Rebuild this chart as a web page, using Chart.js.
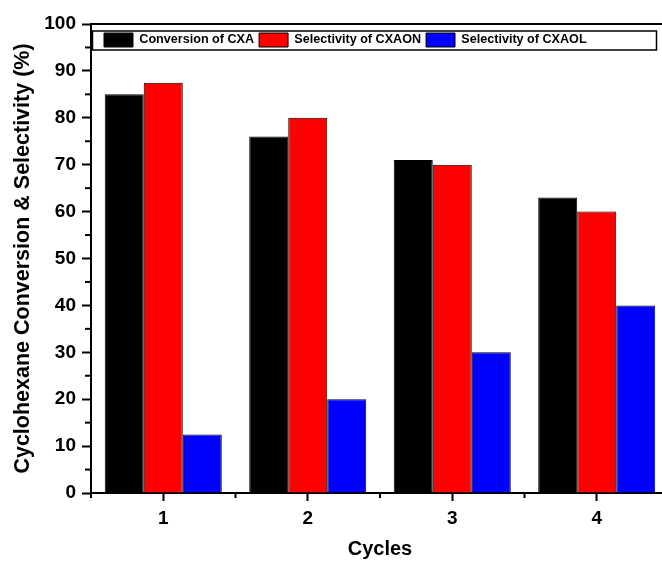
<!DOCTYPE html>
<html lang="en">
<head>
  <meta charset="UTF-8">
  <title>Cyclohexane Conversion & Selectivity</title>
  <script src="https://cdn.jsdelivr.net/npm/chart.js"></script>
  <style>
    html, body { margin: 0; padding: 0; background: #fff; overflow: hidden; }
    #chart { display: block; }
  </style>
</head>
<body>
  <canvas id="chart" width="670" height="565"></canvas>
  <script>
    // Data
    const cycles = ['1', '2', '3', '4'];
    const conversionCXA = [85, 76, 71, 63];
    const selectivityCXAON = [87.5, 80, 70, 60];
    const selectivityCXAOL = [12.5, 20, 30, 40];
    const seriesNames = ['Conversion of CXA', 'Selectivity of CXAON', 'Selectivity of CXAOL'];

    const font = "'Liberation Sans', Arial, sans-serif";

    // Move the legend inside the plot, just under the top frame line
    const legendInside = {
      id: 'legendInside',
      afterLayout(chart) {
        const lg = chart.legend;
        const area = chart.chartArea;
        lg.left = area.left + 8;
        lg.right = chart.width;
        lg.top = area.top + 4;
        lg.bottom = lg.top + 26;
        lg.width = lg.right - lg.left;
        lg.height = 26;
      }
    };

    // Minor ticks, top/right frame lines and the box round the legend
    const framePlugin = {
      id: 'frame',
      afterDraw(chart) {
        const c = chart.ctx;
        const area = chart.chartArea;
        const y = chart.scales.y;
        const x = chart.scales.x;
        c.save();
        c.strokeStyle = '#000';
        c.lineWidth = 2;
        c.beginPath();
        c.moveTo(area.left - 1, area.top);
        c.lineTo(area.right, area.top);
        c.lineTo(area.right, area.bottom);
        c.stroke();

        // minor y ticks (every 5, between labelled ones)
        for (let v = 5; v < 100; v += 10) {
          const py = y.getPixelForValue(v);
          c.beginPath();
          c.moveTo(area.left - 6, py);
          c.lineTo(area.left, py);
          c.stroke();
        }
        // minor x ticks at category boundaries
        for (let i = 0; i <= cycles.length; i++) {
          const px = x.getPixelForValue(i - 0.5);
          c.beginPath();
          c.moveTo(px, area.bottom);
          c.lineTo(px, area.bottom + 5);
          c.stroke();
        }

        // legend frame
        const lg = chart.legend;
        if (lg && lg.legendHitBoxes && lg.legendHitBoxes.length) {
          const hb = lg.legendHitBoxes[0];
          c.lineWidth = 1.5;
          c.strokeRect(area.left + 1.5, hb.top - 2, area.right - area.left - 14, hb.height + 5);
        }
        c.restore();
      }
    };

    new Chart(document.getElementById('chart'), {
      type: 'bar',
      data: {
        labels: cycles,
        datasets: [
          { label: seriesNames[0], data: conversionCXA, backgroundColor: '#000000', borderColor: '#000000' },
          { label: seriesNames[1], data: selectivityCXAON, backgroundColor: '#ff0000', borderColor: '#000000' },
          { label: seriesNames[2], data: selectivityCXAOL, backgroundColor: '#0000ff', borderColor: '#000000' }
        ]
      },
      options: {
        responsive: false,
        animation: false,
        devicePixelRatio: 1,
        layout: { padding: { top: 14, right: 1, left: 0, bottom: 0 } },
        datasets: {
          bar: { categoryPercentage: 0.81, barPercentage: 1, borderWidth: 1 }
        },
        plugins: {
          title: { display: false },
          tooltip: { enabled: false },
          legend: {
            position: 'top',
            align: 'start',
            maxHeight: 10,
            labels: {
              boxWidth: 29,
              boxHeight: 14,
              padding: 5,
              color: '#000',
              font: { family: font, size: 12.6, weight: 'bold' }
            }
          }
        },
        scales: {
          x: {
            afterFit(scale) { scale.height = 72; },
            grid: {
              display: true,
              offset: false,
              drawOnChartArea: false,
              tickLength: 8,
              tickWidth: 2,
              tickColor: '#000'
            },
            border: { display: true, color: '#000', width: 2 },
            ticks: {
              color: '#000',
              padding: 6,
              font: { family: font, size: 19, weight: 'bold' }
            },
            title: {
              display: true,
              text: 'Cycles',
              color: '#000',
              padding: { top: 8 },
              font: { family: font, size: 20, weight: 'bold' }
            }
          },
          y: {
            min: 0,
            max: 100,
            afterFit(scale) { scale.width = 91; },
            grid: {
              display: true,
              drawOnChartArea: false,
              tickLength: 9,
              tickWidth: 2,
              tickColor: '#000'
            },
            border: { display: true, color: '#000', width: 2 },
            ticks: {
              stepSize: 10,
              color: '#000',
              padding: 6,
              font: { family: font, size: 19, weight: 'bold' }
            },
            title: {
              display: true,
              text: 'Cyclohexane Conversion & Selectivity (%)',
              color: '#000',
              padding: { top: 10, bottom: 0 },
              font: { family: font, size: 21.5, weight: 'bold' }
            }
          }
        }
      },
      plugins: [legendInside, framePlugin]
    });
  </script>
</body>
</html>
